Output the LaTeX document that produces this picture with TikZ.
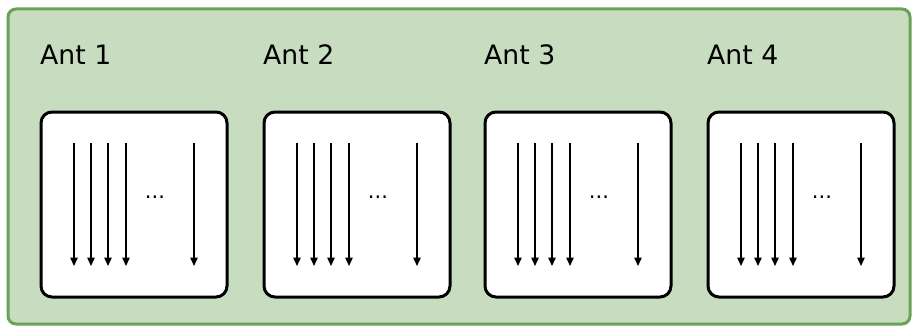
\documentclass[tikz,border=0pt]{standalone}
\usepackage{fontspec}
\setmainfont{DejaVu Sans}
\usetikzlibrary{arrows.meta}
\definecolor{outerfill}{RGB}{200,220,192}
\definecolor{outerdraw}{RGB}{106,163,86}
\tikzset{
  outerbox/.style={draw=outerdraw, fill=outerfill, line width=3pt, rounded corners=8pt},
  antbox/.style={draw=black, fill=white, line width=3pt, rounded corners=11pt},
  antlabel/.style={anchor=base west, inner sep=0pt, font=\fontsize{26.7}{30}\selectfont},
  dots/.style={inner sep=0pt, font=\fontsize{21}{24}\selectfont},
  beam/.style={line width=1.4pt, -{Triangle[width=7.5pt,length=8.5pt]}}
}
\begin{document}
\begin{tikzpicture}[x=1pt,y=-1pt]
\useasboundingbox (0,0) rectangle (918,329);
\path[outerbox] (8,9) rectangle (910,324);
\foreach \i/\x in {1/41,2/264,3/485,4/708}{
  \node[antlabel] (lab\i) at (\x-1,65) {Ant \i};
  \path[antbox] (\x,112) rectangle ++(186,185);
  \foreach \j/\dx in {a/33,b/50,c/67,d/85,e/153}{
    \coordinate (s\i\j) at (\x+\dx,143);
    \coordinate (e\i\j) at (\x+\dx,266);
    \draw[beam] (s\i\j) -- (e\i\j);
  }
  \node[dots] (d\i) at (\x+114,197) {...};
}
\end{tikzpicture}
\end{document}
